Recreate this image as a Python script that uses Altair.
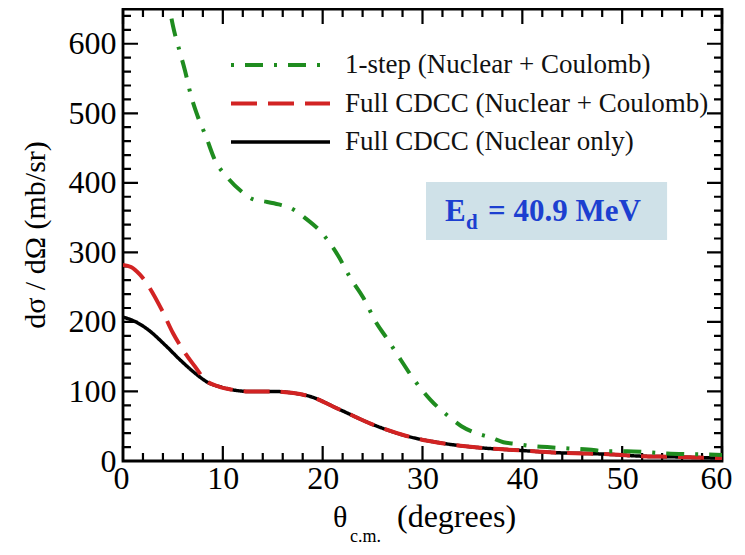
import altair as alt
import pandas as pd

# ---------------- data ----------------
theta_1step = [4.6, 5.0, 5.7, 6.2, 6.8, 7.5, 8.3, 9.2, 10.5, 12.1, 13.1, 14.3, 15.6, 16.9,
               18.2, 20.1, 21.6, 22.7, 24.1, 25.4, 26.4, 27.8, 29.1, 30.8, 32.8, 33.9, 35.4,
               36.8, 38.1, 39.4, 40.6, 42.5, 44.6, 46.6, 48.5, 50.5, 52.5, 54.5, 56.5, 58.5, 60.0]
xs_1step = [656, 626, 588, 562, 526, 495, 467, 433, 407, 385, 376, 373, 369, 363,
            350, 325, 294, 265, 234, 198, 177, 146, 118, 88, 62, 50, 40,
            34, 27, 24.6, 22, 20, 18, 16.5, 14, 14, 12.7, 10.8, 9.8, 9.3, 8.5]

theta_cdcc = [0.0, 0.8, 1.7, 3.9, 5.0, 6.0, 7.2, 8.2, 9.6, 10.9, 12.6, 15.2, 16.9, 18.7,
              21.7, 25.1, 28.4, 31.8, 33.8, 35.8, 38.4, 41.1, 43.8, 46.5, 49.1, 51.8,
              55.1, 58.5, 60.0]
xs_cdcc = [282, 279, 268, 217, 184, 160, 136, 117, 107, 102.6, 100, 100, 98, 93,
           74, 52, 36, 26, 22, 19, 16.5, 14, 11.7, 10.8, 9.3, 7,
           6, 4.6, 4.2]

theta_nuc = [0.0, 1.2, 2.5, 4.2, 5.9, 7.2, 8.5, 9.9, 10.9, 12.6, 15.2, 16.9, 18.7,
             21.7, 25.1, 28.4, 31.8, 33.8, 35.8, 38.4, 41.1, 43.8, 46.5, 49.1, 51.8,
             55.1, 58.5, 60.0]
xs_nuc = [207, 200.6, 189, 167, 143, 126.5, 113, 106, 102.6, 100, 100, 98, 93,
          74, 52, 36, 26, 22, 19, 16.5, 14, 11.7, 10.8, 9.3, 7,
          6, 4.6, 4.2]

series_names = ["1-step (Nuclear + Coulomb)",
                "Full CDCC (Nuclear + Coulomb)",
                "Full CDCC (Nuclear only)"]

x_major = [0, 10, 20, 30, 40, 50, 60]
x_minor = [2, 4, 6, 8, 12, 14, 16, 18, 22, 24, 26, 28, 32, 34, 36, 38,
           42, 44, 46, 48, 52, 54, 56, 58]
y_major = [0, 100, 200, 300, 400, 500, 600]
y_minor = [20, 40, 60, 80, 120, 140, 160, 180, 220, 240, 260, 280, 320, 340,
           360, 380, 420, 440, 460, 480, 520, 540, 560, 580, 620, 640]

x_title_main = "θ"
x_title_sub = "c.m."
x_title_rest = "(degrees)"
y_title = "dσ / dΩ (mb/sr)"
annot_main = "E"
annot_sub = "d"
annot_rest = "= 40.9 MeV"
# annotation box extent, in axis units (degrees, mb/sr)
annot_box = dict(x0=30.35, x1=54.5, y0=317.8, y1=401.2)

# ---------------- styling ----------------
W, H = 599, 452
XMIN, XMAX, YMIN, YMAX = 0, 60, 0, 650
FONT = "Liberation Serif, Times New Roman, Times, DejaVu Serif, serif"
GREEN = "#1f8c1f"
RED = "#d22323"
BLACK = "#000000"
BLUE = "#1c3fd0"
BOXFILL = "#cfe1e8"
MAJ, MIN = 15, 8

styles = [
    dict(color=GREEN, dash=[3, 11, 18, 11], width=4),
    dict(color=RED, dash=[26, 11], width=4),
    dict(color=BLACK, dash=[1, 0], width=3.5),
]

XS = alt.Scale(domain=[XMIN, XMAX], nice=False, zero=False)
YS = alt.Scale(domain=[YMIN, YMAX], nice=False, zero=False)

XAX = alt.Axis(values=x_major, title=None, ticks=False, tickSize=0, domain=False,
               grid=False, labelFont=FONT, labelFontSize=32, labelColor="black",
               labelPadding=2, labelFlush=True, labelFlushOffset=10,
               labelOverlap=False, format="d")
YAX = alt.Axis(values=y_major, title=None, ticks=False, tickSize=0, domain=False,
               grid=False, labelFont=FONT, labelFontSize=32, labelColor="black",
               labelPadding=7, labelOverlap=False, format="d")


def curve(theta, xs, st):
    df = pd.DataFrame({"theta": theta, "xs": xs})
    return alt.Chart(df).mark_line(
        color=st["color"], strokeDash=st["dash"], strokeWidth=st["width"],
        interpolate="monotone", clip=True, strokeCap="butt"
    ).encode(
        x=alt.X("theta:Q", scale=XS, axis=XAX),
        y=alt.Y("xs:Q", scale=YS, axis=YAX),
    )


# inward ticks on all four sides, as two-point line paths in axis units
PX_X = W / (XMAX - XMIN)
PX_Y = H / (YMAX - YMIN)
rows = []
k = 0
for vals, ln in ((x_major, MAJ), (x_minor, MIN)):
    dy = ln / PX_Y
    for v in vals:
        for y_a, y_b in ((YMIN, YMIN + dy), (YMAX - dy, YMAX)):
            rows.append({"seg": "s%d" % k, "theta": float(v), "xs": float(y_a)})
            rows.append({"seg": "s%d" % k, "theta": float(v), "xs": float(y_b)})
            k += 1
for vals, ln in ((y_major, MAJ), (y_minor, MIN)):
    dx = ln / PX_X
    for v in vals:
        for x_a, x_b in ((XMIN, XMIN + dx), (XMAX - dx, XMAX)):
            rows.append({"seg": "s%d" % k, "theta": float(x_a), "xs": float(v)})
            rows.append({"seg": "s%d" % k, "theta": float(x_b), "xs": float(v)})
            k += 1
tick_df = pd.DataFrame(rows)

layers = []
# annotation box (behind the curves)
box = pd.DataFrame({k2: [v2] for k2, v2 in annot_box.items()})
layers.append(
    alt.Chart(box).mark_rect(color=BOXFILL)
    .encode(x=alt.X("x0:Q", scale=XS, axis=XAX), x2="x1",
            y=alt.Y("y0:Q", scale=YS, axis=YAX), y2="y1")
)
# ticks, styled like the curve layers that render
layers.append(
    alt.Chart(tick_df).mark_line(color=BLACK, strokeDash=[1, 0], strokeWidth=2.2,
                                 strokeCap="butt", interpolate="linear")
    .encode(x=alt.X("theta:Q", scale=XS, axis=XAX),
            y=alt.Y("xs:Q", scale=YS, axis=YAX),
            detail="seg:N", order="xs:Q")
)
# curves: black first, red over it, green on top
layers.append(curve(theta_nuc, xs_nuc, styles[2]))
layers.append(curve(theta_cdcc, xs_cdcc, styles[1]))
layers.append(curve(theta_1step, xs_1step, styles[0]))

# legend (manual, inside plot)
row_y = [56, 94.5, 133]
for name, st, ry in zip(series_names, styles, row_y):
    one = pd.DataFrame({"label": [name]})
    layers.append(
        alt.Chart(one).mark_rule(color=st["color"], strokeDash=st["dash"],
                                 strokeWidth=st["width"], strokeCap="butt")
        .encode(x=alt.value(108), x2=alt.value(207), y=alt.value(ry))
    )
    layers.append(
        alt.Chart(one).mark_text(font=FONT, fontSize=27, align="left",
                                 baseline="alphabetic", color="#111111")
        .encode(x=alt.value(222), y=alt.value(ry + 8), text="label:N")
    )

# annotation text
ann = pd.DataFrame({"main": [annot_main], "sub": [annot_sub], "rest": [annot_rest]})
layers.append(
    alt.Chart(ann).mark_text(font=FONT, fontSize=31, fontWeight="bold", color=BLUE,
                             align="left", baseline="alphabetic")
    .encode(x=alt.value(322), y=alt.value(212), text="main:N")
)
layers.append(
    alt.Chart(ann).mark_text(font=FONT, fontSize=21, fontWeight="bold", color=BLUE,
                             align="left", baseline="alphabetic")
    .encode(x=alt.value(343), y=alt.value(220), text="sub:N")
)
layers.append(
    alt.Chart(ann).mark_text(font=FONT, fontSize=31, fontWeight="bold", color=BLUE,
                             align="left", baseline="alphabetic")
    .encode(x=alt.value(365), y=alt.value(212), text="rest:N")
)

# axis titles
tt = pd.DataFrame({"ta": [x_title_main], "tb": [x_title_sub], "tc": [x_title_rest], "ty": [y_title]})
layers.append(
    alt.Chart(tt).mark_text(font=FONT, fontSize=30, align="left", baseline="alphabetic", color="black")
    .encode(x=alt.value(210), y=alt.value(518), text="ta:N")
)
layers.append(
    alt.Chart(tt).mark_text(font=FONT, fontSize=18, align="left", baseline="alphabetic", color="black")
    .encode(x=alt.value(227), y=alt.value(533), text="tb:N")
)
layers.append(
    alt.Chart(tt).mark_text(font=FONT, fontSize=32, align="left", baseline="alphabetic", color="black")
    .encode(x=alt.value(274), y=alt.value(518), text="tc:N")
)
layers.append(
    alt.Chart(tt).mark_text(font=FONT, fontSize=30, align="center", baseline="middle",
                            angle=270, color="black")
    .encode(x=alt.value(-87), y=alt.value(226), text="ty:N")
)

chart = alt.layer(*layers).properties(
    width=W, height=H,
    autosize=alt.AutoSizeParams(type="none"),
    padding={"left": 115, "top": 1, "right": 14, "bottom": 86},
    background="white",
).configure_view(stroke="black", strokeWidth=2.8)

chart.save("out.html", embed_options={"renderer": "svg", "actions": False})
